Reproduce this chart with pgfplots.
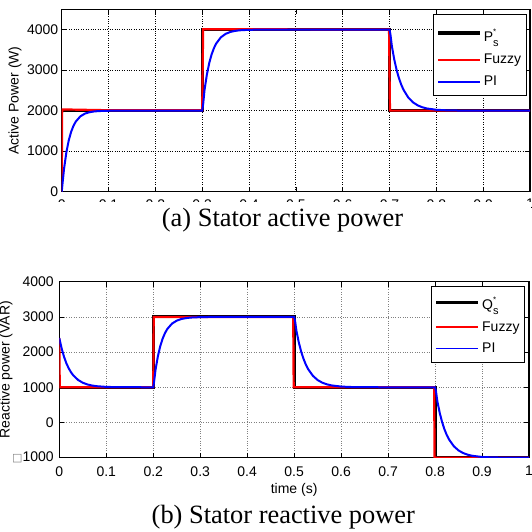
\documentclass[border=0pt]{standalone}
\usepackage{pgfplots}
\pgfplotsset{compat=1.18}
\usepackage{fontspec}
\setmainfont{Liberation Sans}
\newfontfamily\capfont{Liberation Serif}
\newfontfamily\symfont{DejaVu Sans}

\definecolor{refblack}{RGB}{0,0,0}
\definecolor{fzred}{RGB}{255,0,0}
\definecolor{piblue}{RGB}{0,0,255}

% #1 letter, #2 strut height, #3 strut depth
\newcommand{\subsup}[3]{\rule[-#3]{0pt}{\dimexpr#2+#3\relax}#1\makebox[0pt][l]{\raisebox{7pt}{\fontsize{8}{8}\selectfont *}}\raisebox{-5pt}{\fontsize{11}{11}\selectfont s}}

\pgfplotsset{
  mstyle/.style={
    scale only axis,
    xmin=0, xmax=1,
    xtick={0,0.1,0.2,0.3,0.4,0.5,0.6,0.7,0.8,0.9,1},
    xticklabels={0,0.1,0.2,0.3,0.4,0.5,0.6,0.7,0.8,0.9,1},
    tick align=inside,
    major tick length=5pt,
    tick style={black, line width=0.6pt},
    xmajorgrids, ymajorgrids,
    axis line style={black, line width=1.2pt},
    ticklabel style={font=\fontsize{14}{16}\selectfont},
    xticklabel style={yshift=-5pt},
    label style={font=\fontsize{14}{16}\selectfont},
    legend cell align=left,
    legend image code/.code={\draw[##1] (0pt,0pt) -- (42pt,0pt);},
    legend style={draw=black, line width=1pt, fill=white,
      font=\fontsize{14}{16}\selectfont,
      inner xsep=3pt, inner ysep=6pt},
  },
}

\begin{document}
\begin{tikzpicture}
\useasboundingbox (0,0) rectangle (531pt,-532pt);

% ---------- (a) active power ----------
\begin{axis}[mstyle,
  at={(61.7pt,-191.7pt)}, anchor=south west,
  width=468.3pt, height=182.4pt,
  ymin=0, ymax=4500,
  ytick={0,1000,2000,3000,4000},
  yticklabels={0,1000,2000,3000,4000},
  xticklabel style={yshift=1pt},
  grid style={dotted, black, line width=0.8pt},
  ylabel={Active Power (W)},
  ylabel style={at={(axis description cs:-0.0997,0.5)}, anchor=center},
  legend style={at={(0.993,0.973)}, anchor=north east, row sep=7pt},
]
\addplot[refblack, line width=3pt, legend image post style={line width=3.5pt}] coordinates {
  (0,0) (0,2000) (0.3,2000) (0.3,4000) (0.7,4000) (0.7,2000) (1,2000)
};
\addlegendentry{\subsup{P}{19pt}{14pt}}
\addplot[fzred, line width=2.2pt, legend image post style={line width=1.8pt}] coordinates {
  (0,0) (0.001,2030) (0.1,2010) (0.3,2010) (0.302,4010) (0.699,4000) (0.701,2000) (1,2000)
};
\addlegendentry{Fuzzy}
\addplot[piblue, line width=2pt, legend image post style={line width=1.8pt}] coordinates {
  (0,0) (0.005,567) (0.01,973) (0.015,1264) (0.02,1473) (0.025,1622)
  (0.03,1729) (0.04,1861) (0.05,1929) (0.06,1963) (0.07,1981) (0.08,1990)
  (0.1,1997) (0.12,2000) (0.3,2000)
  (0.302,2150) (0.305,2510) (0.31,2890) (0.315,3172) (0.32,3383) (0.325,3540)
  (0.33,3658) (0.34,3810) (0.35,3894) (0.36,3941) (0.37,3967) (0.38,3982)
  (0.40,3994) (0.43,4000) (0.7,4000)
  (0.702,3880) (0.705,3594) (0.71,3270) (0.715,3011) (0.72,2806) (0.725,2642)
  (0.73,2512) (0.74,2325) (0.75,2206) (0.76,2131) (0.77,2083) (0.78,2053)
  (0.8,2021) (0.82,2009) (0.85,2002) (1,2000)
};
\addlegendentry{\rule[-3pt]{0pt}{3pt}PI}
\end{axis}

% tick labels of (a) are cut off in the source image
\fill[white] (20pt,-201.8pt) rectangle (531pt,-214pt);
\node[anchor=base, font=\capfont\fontsize{26.4}{28}\selectfont] at (282.5pt,-226.7pt) {(a) Stator active power};

% ---------- (b) reactive power ----------
\begin{axis}[mstyle,
  at={(59.3pt,-457.7pt)}, anchor=south west,
  width=469.7pt, height=176pt,
  ymin=-1000, ymax=4000,
  ytick={-1000,0,1000,2000,3000,4000},
  yticklabels={{\textcolor{gray}{\symfont\fontsize{11}{11}\selectfont □}1000},0,1000,2000,3000,4000},
  yticklabel style={xshift=-2pt},
  grid style={dotted, gray, line width=0.7pt},
  xlabel={time (s)},
  xlabel style={at={(axis description cs:0.5,-0.18)}, anchor=center},
  ylabel={Reactive power (VAR)},
  ylabel style={at={(axis description cs:-0.1135,0.5)}, anchor=center},
  legend style={at={(0.9915,0.978)}, anchor=north east, row sep=6.3pt},
]
\addplot[refblack, line width=3pt, legend image post style={line width=3.5pt}] coordinates {
  (0,1000) (0.2,1000) (0.2,3000) (0.5,3000) (0.5,1000) (0.8,1000) (0.8,-1000) (1,-1000)
};
\addlegendentry{\subsup{Q}{15.6pt}{10.7pt}}
\addplot[fzred, line width=2.2pt, legend image post style={line width=1.8pt}] coordinates {
  (0,2400) (0.001,1000) (0.2,1000) (0.201,3000) (0.498,3000) (0.499,1000) (0.798,1000) (0.799,-1000) (1,-1000)
};
\addlegendentry{Fuzzy}
\addplot[piblue, line width=2pt, legend image post style={line width=1.8pt}] coordinates {
  (0,2400) (0.005,2103) (0.01,1870) (0.015,1685) (0.02,1540) (0.025,1426)
  (0.03,1336) (0.04,1209) (0.05,1130) (0.06,1080) (0.07,1050) (0.08,1031)
  (0.1,1012) (0.12,1005) (0.2,1000)
  (0.202,1180) (0.205,1510) (0.21,1890) (0.215,2172) (0.22,2383) (0.225,2540)
  (0.23,2658) (0.24,2810) (0.25,2894) (0.26,2941) (0.27,2967) (0.28,2982)
  (0.30,2994) (0.33,3000) (0.5,3000)
  (0.502,2880) (0.505,2594) (0.51,2270) (0.515,2011) (0.52,1806) (0.525,1642)
  (0.53,1512) (0.54,1325) (0.55,1206) (0.56,1131) (0.57,1083) (0.58,1053)
  (0.6,1021) (0.62,1009) (0.65,1002) (0.8,1000)
  (0.802,880) (0.805,594) (0.81,270) (0.815,11) (0.82,-194) (0.825,-358)
  (0.83,-488) (0.84,-675) (0.85,-794) (0.86,-869) (0.87,-917) (0.88,-947)
  (0.9,-979) (0.92,-991) (0.95,-998) (1,-1000)
};
\addlegendentry{\rule[-1pt]{0pt}{1pt}PI}
\end{axis}

\node[anchor=base, font=\capfont\fontsize{26.4}{28}\selectfont] at (283.3pt,-523pt) {(b) Stator reactive power};
\end{tikzpicture}
\end{document}
